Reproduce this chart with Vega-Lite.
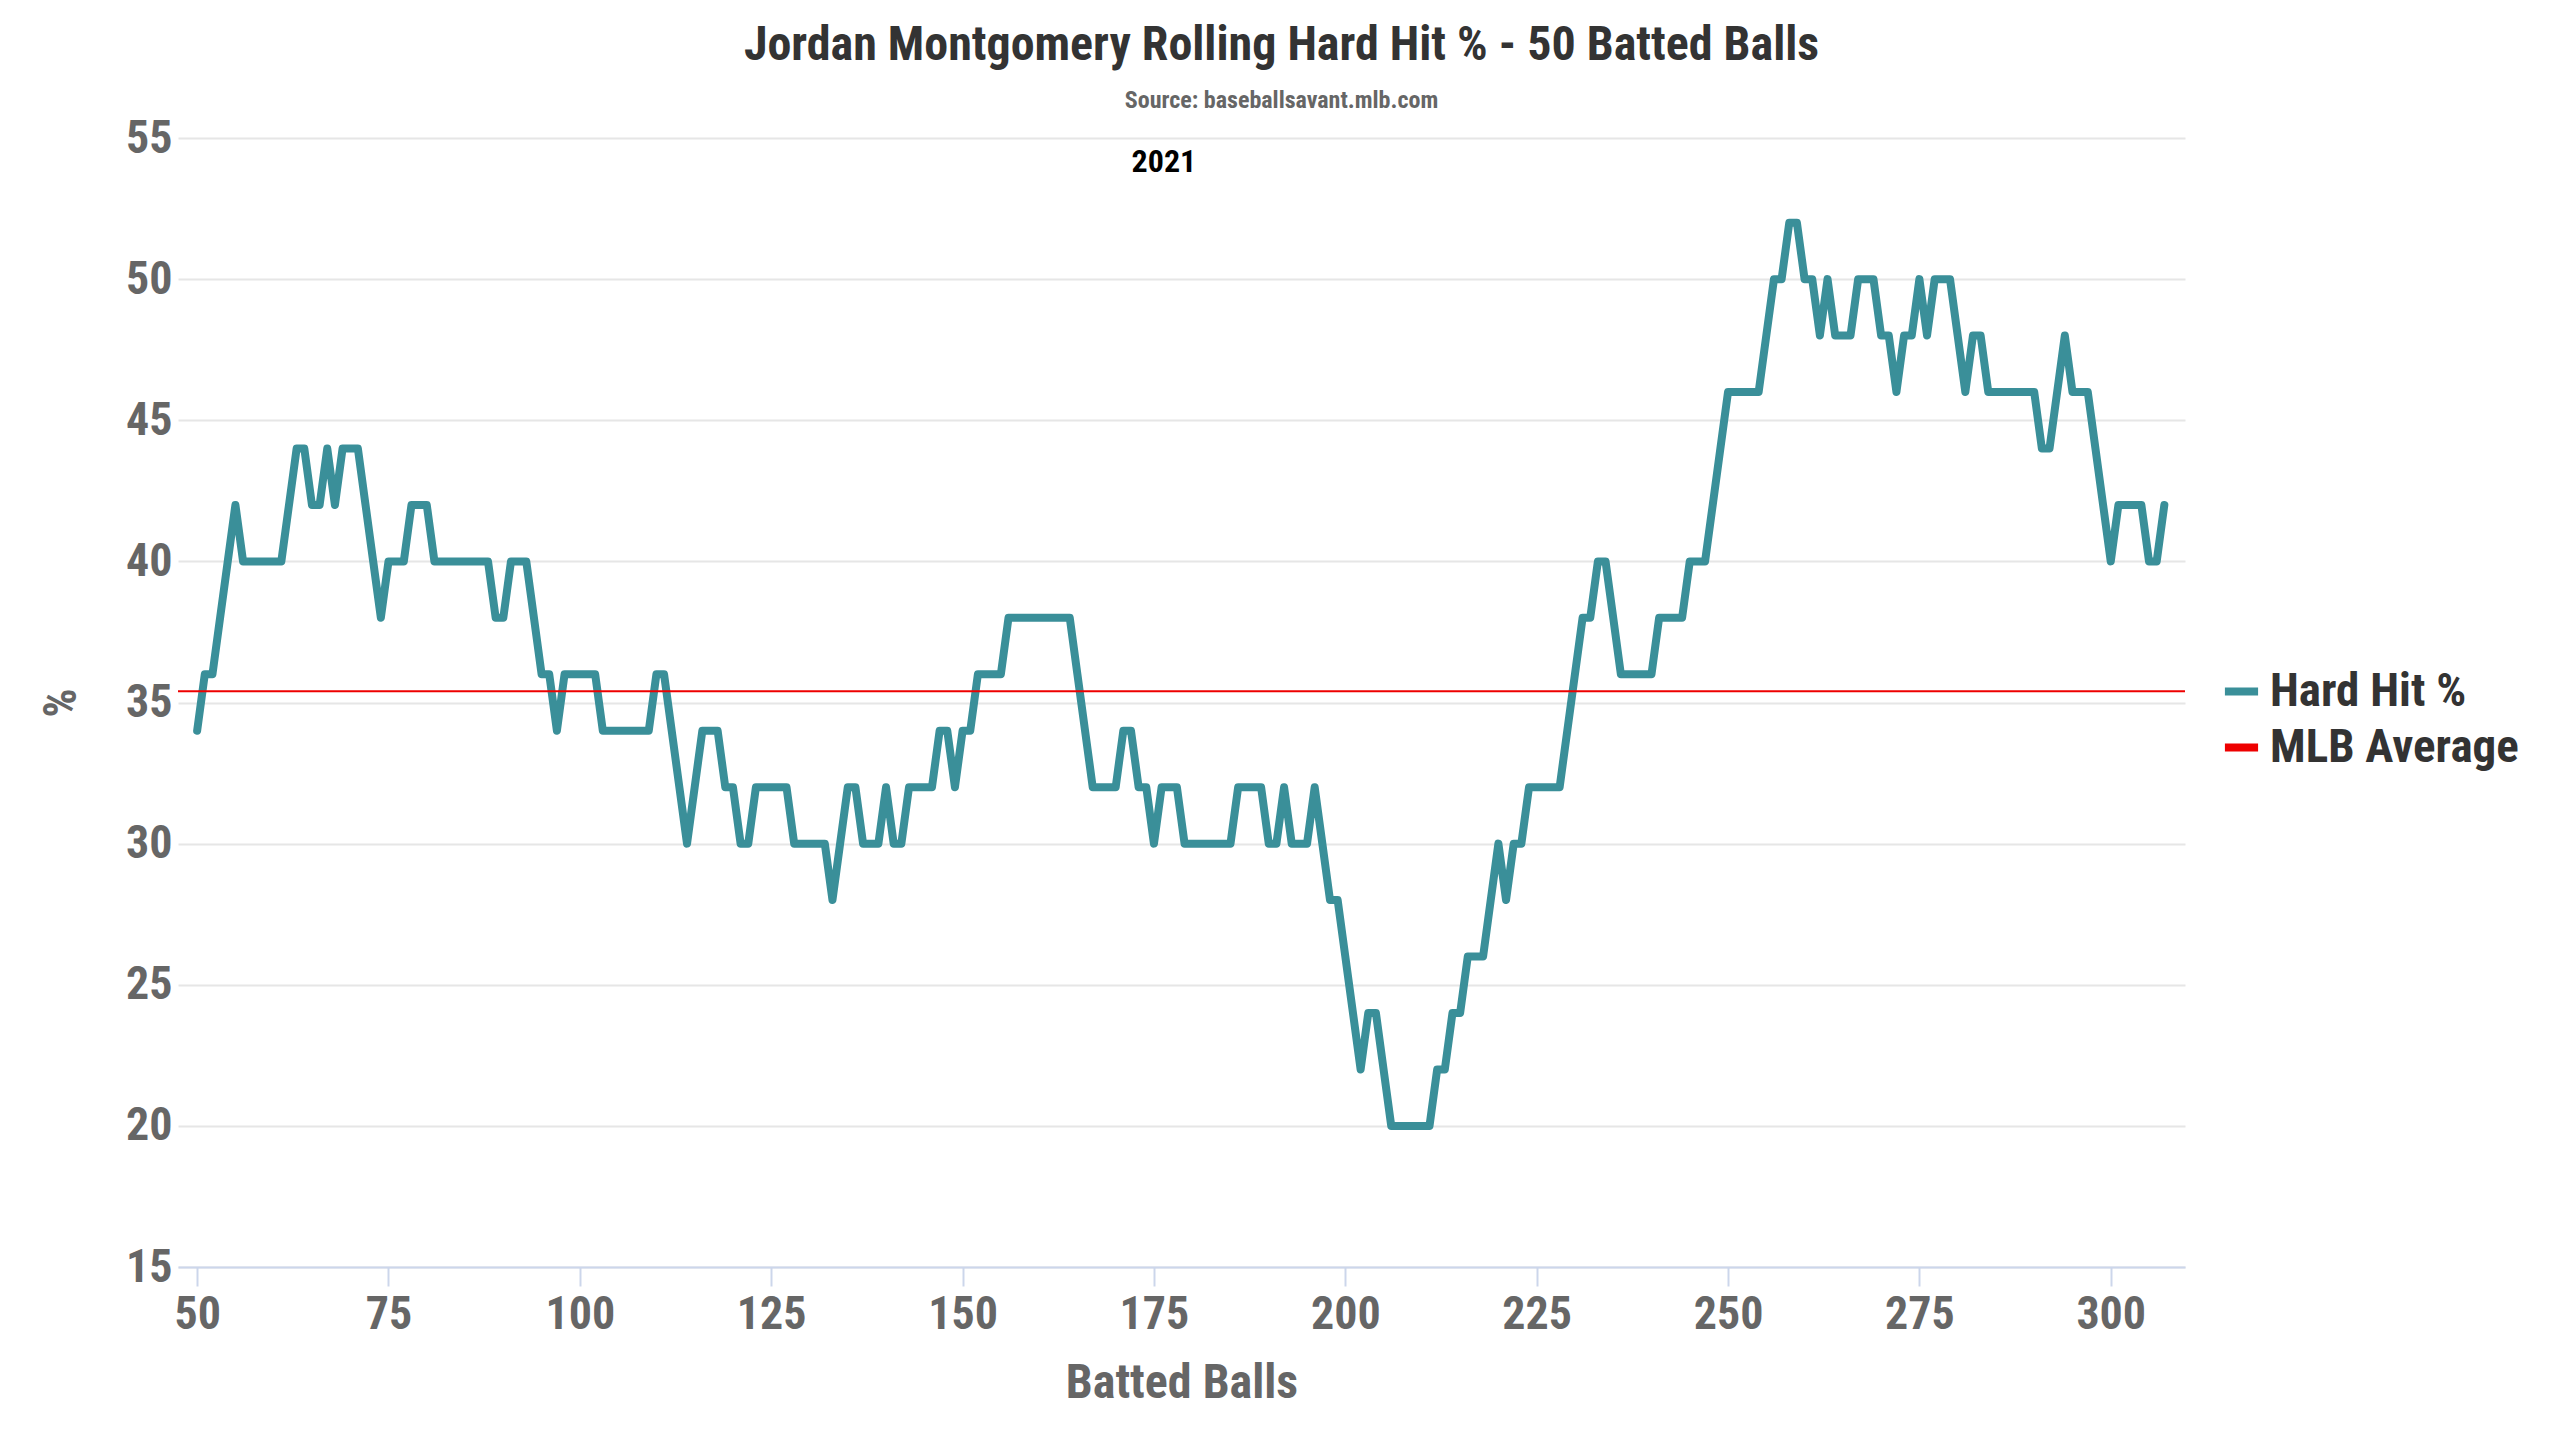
{
  "$schema": "https://vega.github.io/schema/vega-lite/v6.json",
  "width": 2007,
  "height": 1129,
  "autosize": {"type": "none"},
  "padding": {"left": 178, "top": 138, "right": 375, "bottom": 173},
  "background": "white",
  "title": {
    "text": "Jordan Montgomery Rolling Hard Hit % - 50 Batted Balls",
    "subtitle": "Source: baseballsavant.mlb.com",
    "anchor": "middle",
    "dx": 100,
    "fontSize": 48,
    "fontWeight": "bold",
    "color": "#333333",
    "subtitleFontSize": 24,
    "subtitleFontWeight": "bold",
    "subtitleColor": "#666666",
    "subtitlePadding": 19,
    "offset": 2
  },
  "config": {
    "view": {"stroke": null},
    "font": "Roboto Condensed, Liberation Sans Narrow, DejaVu Sans Condensed, Roboto, sans-serif",
    "legend": {
      "orient": "none",
      "legendX": 2040,
      "legendY": 530,
      "symbolType": "stroke",
      "symbolStrokeWidth": 8,
      "symbolSize": 1100,
      "labelFontSize": 47,
      "labelFontWeight": "bold",
      "labelColor": "#333333",
      "labelOffset": 5,
      "rowPadding": 8,
      "labelLimit": 400
    }
  },
  "layer": [
    {
      "data": {
        "values": [
          {"batted_balls": 50, "hard_hit_pct": 34}, {"batted_balls": 51, "hard_hit_pct": 36}, {"batted_balls": 52, "hard_hit_pct": 36},
          {"batted_balls": 53, "hard_hit_pct": 38}, {"batted_balls": 54, "hard_hit_pct": 40}, {"batted_balls": 55, "hard_hit_pct": 42},
          {"batted_balls": 56, "hard_hit_pct": 40}, {"batted_balls": 57, "hard_hit_pct": 40}, {"batted_balls": 58, "hard_hit_pct": 40},
          {"batted_balls": 59, "hard_hit_pct": 40}, {"batted_balls": 60, "hard_hit_pct": 40}, {"batted_balls": 61, "hard_hit_pct": 40},
          {"batted_balls": 62, "hard_hit_pct": 42}, {"batted_balls": 63, "hard_hit_pct": 44}, {"batted_balls": 64, "hard_hit_pct": 44},
          {"batted_balls": 65, "hard_hit_pct": 42}, {"batted_balls": 66, "hard_hit_pct": 42}, {"batted_balls": 67, "hard_hit_pct": 44},
          {"batted_balls": 68, "hard_hit_pct": 42}, {"batted_balls": 69, "hard_hit_pct": 44}, {"batted_balls": 70, "hard_hit_pct": 44},
          {"batted_balls": 71, "hard_hit_pct": 44}, {"batted_balls": 72, "hard_hit_pct": 42}, {"batted_balls": 73, "hard_hit_pct": 40},
          {"batted_balls": 74, "hard_hit_pct": 38}, {"batted_balls": 75, "hard_hit_pct": 40}, {"batted_balls": 76, "hard_hit_pct": 40},
          {"batted_balls": 77, "hard_hit_pct": 40}, {"batted_balls": 78, "hard_hit_pct": 42}, {"batted_balls": 79, "hard_hit_pct": 42},
          {"batted_balls": 80, "hard_hit_pct": 42}, {"batted_balls": 81, "hard_hit_pct": 40}, {"batted_balls": 82, "hard_hit_pct": 40},
          {"batted_balls": 83, "hard_hit_pct": 40}, {"batted_balls": 84, "hard_hit_pct": 40}, {"batted_balls": 85, "hard_hit_pct": 40},
          {"batted_balls": 86, "hard_hit_pct": 40}, {"batted_balls": 87, "hard_hit_pct": 40}, {"batted_balls": 88, "hard_hit_pct": 40},
          {"batted_balls": 89, "hard_hit_pct": 38}, {"batted_balls": 90, "hard_hit_pct": 38}, {"batted_balls": 91, "hard_hit_pct": 40},
          {"batted_balls": 92, "hard_hit_pct": 40}, {"batted_balls": 93, "hard_hit_pct": 40}, {"batted_balls": 94, "hard_hit_pct": 38},
          {"batted_balls": 95, "hard_hit_pct": 36}, {"batted_balls": 96, "hard_hit_pct": 36}, {"batted_balls": 97, "hard_hit_pct": 34},
          {"batted_balls": 98, "hard_hit_pct": 36}, {"batted_balls": 99, "hard_hit_pct": 36}, {"batted_balls": 100, "hard_hit_pct": 36},
          {"batted_balls": 101, "hard_hit_pct": 36}, {"batted_balls": 102, "hard_hit_pct": 36}, {"batted_balls": 103, "hard_hit_pct": 34},
          {"batted_balls": 104, "hard_hit_pct": 34}, {"batted_balls": 105, "hard_hit_pct": 34}, {"batted_balls": 106, "hard_hit_pct": 34},
          {"batted_balls": 107, "hard_hit_pct": 34}, {"batted_balls": 108, "hard_hit_pct": 34}, {"batted_balls": 109, "hard_hit_pct": 34},
          {"batted_balls": 110, "hard_hit_pct": 36}, {"batted_balls": 111, "hard_hit_pct": 36}, {"batted_balls": 112, "hard_hit_pct": 34},
          {"batted_balls": 113, "hard_hit_pct": 32}, {"batted_balls": 114, "hard_hit_pct": 30}, {"batted_balls": 115, "hard_hit_pct": 32},
          {"batted_balls": 116, "hard_hit_pct": 34}, {"batted_balls": 117, "hard_hit_pct": 34}, {"batted_balls": 118, "hard_hit_pct": 34},
          {"batted_balls": 119, "hard_hit_pct": 32}, {"batted_balls": 120, "hard_hit_pct": 32}, {"batted_balls": 121, "hard_hit_pct": 30},
          {"batted_balls": 122, "hard_hit_pct": 30}, {"batted_balls": 123, "hard_hit_pct": 32}, {"batted_balls": 124, "hard_hit_pct": 32},
          {"batted_balls": 125, "hard_hit_pct": 32}, {"batted_balls": 126, "hard_hit_pct": 32}, {"batted_balls": 127, "hard_hit_pct": 32},
          {"batted_balls": 128, "hard_hit_pct": 30}, {"batted_balls": 129, "hard_hit_pct": 30}, {"batted_balls": 130, "hard_hit_pct": 30},
          {"batted_balls": 131, "hard_hit_pct": 30}, {"batted_balls": 132, "hard_hit_pct": 30}, {"batted_balls": 133, "hard_hit_pct": 28},
          {"batted_balls": 134, "hard_hit_pct": 30}, {"batted_balls": 135, "hard_hit_pct": 32}, {"batted_balls": 136, "hard_hit_pct": 32},
          {"batted_balls": 137, "hard_hit_pct": 30}, {"batted_balls": 138, "hard_hit_pct": 30}, {"batted_balls": 139, "hard_hit_pct": 30},
          {"batted_balls": 140, "hard_hit_pct": 32}, {"batted_balls": 141, "hard_hit_pct": 30}, {"batted_balls": 142, "hard_hit_pct": 30},
          {"batted_balls": 143, "hard_hit_pct": 32}, {"batted_balls": 144, "hard_hit_pct": 32}, {"batted_balls": 145, "hard_hit_pct": 32},
          {"batted_balls": 146, "hard_hit_pct": 32}, {"batted_balls": 147, "hard_hit_pct": 34}, {"batted_balls": 148, "hard_hit_pct": 34},
          {"batted_balls": 149, "hard_hit_pct": 32}, {"batted_balls": 150, "hard_hit_pct": 34}, {"batted_balls": 151, "hard_hit_pct": 34},
          {"batted_balls": 152, "hard_hit_pct": 36}, {"batted_balls": 153, "hard_hit_pct": 36}, {"batted_balls": 154, "hard_hit_pct": 36},
          {"batted_balls": 155, "hard_hit_pct": 36}, {"batted_balls": 156, "hard_hit_pct": 38}, {"batted_balls": 157, "hard_hit_pct": 38},
          {"batted_balls": 158, "hard_hit_pct": 38}, {"batted_balls": 159, "hard_hit_pct": 38}, {"batted_balls": 160, "hard_hit_pct": 38},
          {"batted_balls": 161, "hard_hit_pct": 38}, {"batted_balls": 162, "hard_hit_pct": 38}, {"batted_balls": 163, "hard_hit_pct": 38},
          {"batted_balls": 164, "hard_hit_pct": 38}, {"batted_balls": 165, "hard_hit_pct": 36}, {"batted_balls": 166, "hard_hit_pct": 34},
          {"batted_balls": 167, "hard_hit_pct": 32}, {"batted_balls": 168, "hard_hit_pct": 32}, {"batted_balls": 169, "hard_hit_pct": 32},
          {"batted_balls": 170, "hard_hit_pct": 32}, {"batted_balls": 171, "hard_hit_pct": 34}, {"batted_balls": 172, "hard_hit_pct": 34},
          {"batted_balls": 173, "hard_hit_pct": 32}, {"batted_balls": 174, "hard_hit_pct": 32}, {"batted_balls": 175, "hard_hit_pct": 30},
          {"batted_balls": 176, "hard_hit_pct": 32}, {"batted_balls": 177, "hard_hit_pct": 32}, {"batted_balls": 178, "hard_hit_pct": 32},
          {"batted_balls": 179, "hard_hit_pct": 30}, {"batted_balls": 180, "hard_hit_pct": 30}, {"batted_balls": 181, "hard_hit_pct": 30},
          {"batted_balls": 182, "hard_hit_pct": 30}, {"batted_balls": 183, "hard_hit_pct": 30}, {"batted_balls": 184, "hard_hit_pct": 30},
          {"batted_balls": 185, "hard_hit_pct": 30}, {"batted_balls": 186, "hard_hit_pct": 32}, {"batted_balls": 187, "hard_hit_pct": 32},
          {"batted_balls": 188, "hard_hit_pct": 32}, {"batted_balls": 189, "hard_hit_pct": 32}, {"batted_balls": 190, "hard_hit_pct": 30},
          {"batted_balls": 191, "hard_hit_pct": 30}, {"batted_balls": 192, "hard_hit_pct": 32}, {"batted_balls": 193, "hard_hit_pct": 30},
          {"batted_balls": 194, "hard_hit_pct": 30}, {"batted_balls": 195, "hard_hit_pct": 30}, {"batted_balls": 196, "hard_hit_pct": 32},
          {"batted_balls": 197, "hard_hit_pct": 30}, {"batted_balls": 198, "hard_hit_pct": 28}, {"batted_balls": 199, "hard_hit_pct": 28},
          {"batted_balls": 200, "hard_hit_pct": 26}, {"batted_balls": 201, "hard_hit_pct": 24}, {"batted_balls": 202, "hard_hit_pct": 22},
          {"batted_balls": 203, "hard_hit_pct": 24}, {"batted_balls": 204, "hard_hit_pct": 24}, {"batted_balls": 205, "hard_hit_pct": 22},
          {"batted_balls": 206, "hard_hit_pct": 20}, {"batted_balls": 207, "hard_hit_pct": 20}, {"batted_balls": 208, "hard_hit_pct": 20},
          {"batted_balls": 209, "hard_hit_pct": 20}, {"batted_balls": 210, "hard_hit_pct": 20}, {"batted_balls": 211, "hard_hit_pct": 20},
          {"batted_balls": 212, "hard_hit_pct": 22}, {"batted_balls": 213, "hard_hit_pct": 22}, {"batted_balls": 214, "hard_hit_pct": 24},
          {"batted_balls": 215, "hard_hit_pct": 24}, {"batted_balls": 216, "hard_hit_pct": 26}, {"batted_balls": 217, "hard_hit_pct": 26},
          {"batted_balls": 218, "hard_hit_pct": 26}, {"batted_balls": 219, "hard_hit_pct": 28}, {"batted_balls": 220, "hard_hit_pct": 30},
          {"batted_balls": 221, "hard_hit_pct": 28}, {"batted_balls": 222, "hard_hit_pct": 30}, {"batted_balls": 223, "hard_hit_pct": 30},
          {"batted_balls": 224, "hard_hit_pct": 32}, {"batted_balls": 225, "hard_hit_pct": 32}, {"batted_balls": 226, "hard_hit_pct": 32},
          {"batted_balls": 227, "hard_hit_pct": 32}, {"batted_balls": 228, "hard_hit_pct": 32}, {"batted_balls": 229, "hard_hit_pct": 34},
          {"batted_balls": 230, "hard_hit_pct": 36}, {"batted_balls": 231, "hard_hit_pct": 38}, {"batted_balls": 232, "hard_hit_pct": 38},
          {"batted_balls": 233, "hard_hit_pct": 40}, {"batted_balls": 234, "hard_hit_pct": 40}, {"batted_balls": 235, "hard_hit_pct": 38},
          {"batted_balls": 236, "hard_hit_pct": 36}, {"batted_balls": 237, "hard_hit_pct": 36}, {"batted_balls": 238, "hard_hit_pct": 36},
          {"batted_balls": 239, "hard_hit_pct": 36}, {"batted_balls": 240, "hard_hit_pct": 36}, {"batted_balls": 241, "hard_hit_pct": 38},
          {"batted_balls": 242, "hard_hit_pct": 38}, {"batted_balls": 243, "hard_hit_pct": 38}, {"batted_balls": 244, "hard_hit_pct": 38},
          {"batted_balls": 245, "hard_hit_pct": 40}, {"batted_balls": 246, "hard_hit_pct": 40}, {"batted_balls": 247, "hard_hit_pct": 40},
          {"batted_balls": 248, "hard_hit_pct": 42}, {"batted_balls": 249, "hard_hit_pct": 44}, {"batted_balls": 250, "hard_hit_pct": 46},
          {"batted_balls": 251, "hard_hit_pct": 46}, {"batted_balls": 252, "hard_hit_pct": 46}, {"batted_balls": 253, "hard_hit_pct": 46},
          {"batted_balls": 254, "hard_hit_pct": 46}, {"batted_balls": 255, "hard_hit_pct": 48}, {"batted_balls": 256, "hard_hit_pct": 50},
          {"batted_balls": 257, "hard_hit_pct": 50}, {"batted_balls": 258, "hard_hit_pct": 52}, {"batted_balls": 259, "hard_hit_pct": 52},
          {"batted_balls": 260, "hard_hit_pct": 50}, {"batted_balls": 261, "hard_hit_pct": 50}, {"batted_balls": 262, "hard_hit_pct": 48},
          {"batted_balls": 263, "hard_hit_pct": 50}, {"batted_balls": 264, "hard_hit_pct": 48}, {"batted_balls": 265, "hard_hit_pct": 48},
          {"batted_balls": 266, "hard_hit_pct": 48}, {"batted_balls": 267, "hard_hit_pct": 50}, {"batted_balls": 268, "hard_hit_pct": 50},
          {"batted_balls": 269, "hard_hit_pct": 50}, {"batted_balls": 270, "hard_hit_pct": 48}, {"batted_balls": 271, "hard_hit_pct": 48},
          {"batted_balls": 272, "hard_hit_pct": 46}, {"batted_balls": 273, "hard_hit_pct": 48}, {"batted_balls": 274, "hard_hit_pct": 48},
          {"batted_balls": 275, "hard_hit_pct": 50}, {"batted_balls": 276, "hard_hit_pct": 48}, {"batted_balls": 277, "hard_hit_pct": 50},
          {"batted_balls": 278, "hard_hit_pct": 50}, {"batted_balls": 279, "hard_hit_pct": 50}, {"batted_balls": 280, "hard_hit_pct": 48},
          {"batted_balls": 281, "hard_hit_pct": 46}, {"batted_balls": 282, "hard_hit_pct": 48}, {"batted_balls": 283, "hard_hit_pct": 48},
          {"batted_balls": 284, "hard_hit_pct": 46}, {"batted_balls": 285, "hard_hit_pct": 46}, {"batted_balls": 286, "hard_hit_pct": 46},
          {"batted_balls": 287, "hard_hit_pct": 46}, {"batted_balls": 288, "hard_hit_pct": 46}, {"batted_balls": 289, "hard_hit_pct": 46},
          {"batted_balls": 290, "hard_hit_pct": 46}, {"batted_balls": 291, "hard_hit_pct": 44}, {"batted_balls": 292, "hard_hit_pct": 44},
          {"batted_balls": 293, "hard_hit_pct": 46}, {"batted_balls": 294, "hard_hit_pct": 48}, {"batted_balls": 295, "hard_hit_pct": 46},
          {"batted_balls": 296, "hard_hit_pct": 46}, {"batted_balls": 297, "hard_hit_pct": 46}, {"batted_balls": 298, "hard_hit_pct": 44},
          {"batted_balls": 299, "hard_hit_pct": 42}, {"batted_balls": 300, "hard_hit_pct": 40}, {"batted_balls": 301, "hard_hit_pct": 42},
          {"batted_balls": 302, "hard_hit_pct": 42}, {"batted_balls": 303, "hard_hit_pct": 42}, {"batted_balls": 304, "hard_hit_pct": 42},
          {"batted_balls": 305, "hard_hit_pct": 40}, {"batted_balls": 306, "hard_hit_pct": 40}, {"batted_balls": 307, "hard_hit_pct": 42}
        ]
      },
      "mark": {"type": "line", "strokeWidth": 8, "strokeJoin": "round", "strokeCap": "round"},
      "encoding": {
        "x": {
          "field": "batted_balls",
          "type": "quantitative",
          "scale": {"domain": [47.5, 309.7], "nice": false, "zero": false},
          "axis": {
            "values": [50, 75, 100, 125, 150, 175, 200, 225, 250, 275, 300],
            "title": "Batted Balls",
            "grid": false,
            "domainColor": "#ccd6eb",
            "domainWidth": 2,
            "tickColor": "#ccd6eb",
            "tickWidth": 2,
            "tickSize": 19,
            "labelFontSize": 46,
            "labelFontWeight": "bold",
            "labelColor": "#666666",
            "labelPadding": 6,
            "titleFontSize": 48,
            "titleFontWeight": "bold",
            "titleColor": "#666666",
            "titlePadding": 22
          }
        },
        "y": {
          "field": "hard_hit_pct",
          "type": "quantitative",
          "scale": {"domain": [15, 55], "nice": false, "zero": false},
          "axis": {
            "values": [15, 20, 25, 30, 35, 40, 45, 50, 55],
            "title": "%",
            "domain": false,
            "ticks": false,
            "gridColor": "#e6e6e6",
            "gridWidth": 2,
            "labelFontSize": 46,
            "labelFontWeight": "bold",
            "labelColor": "#666666",
            "labelPadding": 6,
            "titleFontSize": 46,
            "titleFontWeight": "bold",
            "titleColor": "#666666",
            "titlePadding": 40
          }
        },
        "color": {
          "datum": "Hard Hit %",
          "scale": {"domain": ["Hard Hit %", "MLB Average"], "range": ["#3a8f99", "#ee0000"]},
          "legend": {"title": null}
        }
      }
    },
    {
      "data": {"values": [{"mlb_avg": 35.4}]},
      "mark": {"type": "rule", "strokeWidth": 2},
      "encoding": {
        "y": {"field": "mlb_avg", "type": "quantitative"},
        "color": {"datum": "MLB Average"}
      }
    },
    {
      "data": {"values": [{"batted_balls": 176.3, "hard_hit_pct": 54.15, "label": "2021"}]},
      "mark": {"type": "text", "fontSize": 32, "fontWeight": "bold", "color": "#000000", "align": "center", "baseline": "middle"},
      "encoding": {
        "x": {"field": "batted_balls", "type": "quantitative"},
        "y": {"field": "hard_hit_pct", "type": "quantitative"},
        "text": {"field": "label"}
      }
    }
  ]
}
